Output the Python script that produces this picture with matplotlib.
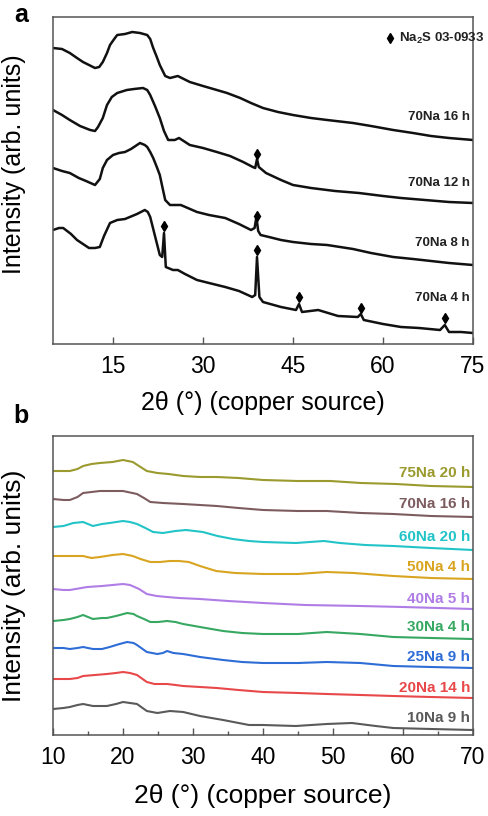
"""
XRD patterns of Na-loaded samples: (a) 70Na series vs milling time,
(b) composition series. Curves are stacked with offsets in arb. units.
"""

import matplotlib
matplotlib.use("Agg")
import matplotlib.pyplot as plt
from matplotlib.ticker import MultipleLocator

plt.rcParams["font.family"] = ["Liberation Sans", "DejaVu Sans"]
plt.rcParams["mathtext.fontset"] = "custom"
plt.rcParams["mathtext.rm"] = "Liberation Sans"
plt.rcParams["mathtext.bf"] = "Liberation Sans:bold"

# ----------------------------------------------------------------------
# Panel a: 70Na milled 4/8/12/16 h (stacked, arb. units)
# ----------------------------------------------------------------------
tt_16h = [5, 6.5, 7.8, 9, 10, 11, 12, 12.7, 13.3, 14, 14.5, 15.2, 15.7, 17, 18.2,
          19.5, 20.7, 21.2, 21.7, 22.3, 22.8, 23.7, 24.5, 25.8, 26.8, 27.8, 30,
          32.3, 34, 36.2, 38, 40, 42.5, 45, 48, 50.7, 55, 58, 61.7, 65, 68, 71, 75]
i_16h = [296, 295, 291, 286, 282, 279, 276, 277, 282, 291, 299, 305, 309, 310, 312,
         311, 309, 305, 296, 287, 279, 268, 266, 268, 265, 262, 258,
         254, 251, 246, 241, 236, 232, 229, 226, 224, 221, 218, 214, 211, 208, 206, 204]

tt_12h = [5, 6.5, 7.8, 9.5, 11.2, 12, 12.5, 13.3, 14, 14.8, 15.7, 17.3, 18.5, 20,
          20.7, 21.2, 22, 22.8, 23.5, 24.2, 25.3, 26, 27.8, 30, 32.3, 34.5, 36.7,
          38.3, 38.7, 39, 39.3, 39.7, 40.5, 43, 45, 48, 52, 56, 60, 63, 67, 71, 75]
i_12h = [234, 229, 224, 218, 214, 213, 217, 226, 239, 247, 251, 254, 255, 256,
         254, 249, 238, 226, 213, 204, 204, 206, 199, 196, 192, 188, 182,
         177, 176, 185, 177, 175, 171, 164, 159, 156, 153, 151, 148, 146, 144, 142, 141]

tt_8h = [5, 6.5, 7.8, 9.3, 10.5, 12, 12.8, 13.3, 14, 15, 16, 17, 18, 19.5, 20.3,
         20.7, 21.2, 21.7, 22.3, 22.8, 23.3, 23.7, 24.5, 26.3, 29, 31, 33.7, 36,
         38, 38.6, 38.9, 39.2, 39.6, 41, 43, 45, 48, 50.7, 55, 58, 61.7, 65, 68, 71, 75]
i_8h = [176, 173, 171, 166, 163, 159, 165, 176, 184, 189, 191, 192, 195, 201, 199,
        197, 192, 186, 177, 169, 155, 144, 139, 139, 132, 129, 126, 120,
        114, 116, 127, 113, 109, 107, 104, 102, 100, 99, 95, 91, 87, 85, 83, 81, 79]

tt_4h = [5, 6, 6.7, 8, 9, 10, 11, 12, 12.8, 13.5, 14.5, 15.7, 17, 17.8, 19, 20.3,
         20.8, 21.2, 22, 22.8, 23.2, 23.5, 23.8, 24.2, 25, 25.8, 27, 29, 31, 33.7,
         36, 38.2, 38.7, 39, 39.4, 40, 43, 45.5, 46, 46.5, 49.2, 52.5, 55.8, 56.3,
         56.8, 60, 63, 66, 69.5, 70.3, 71, 73, 75]
i_4h = [114, 116, 116, 110, 104, 100, 96, 96, 97, 108, 121, 124, 125, 127, 130, 134,
        132, 127, 108, 89, 87, 111, 77, 76, 74, 74, 70, 64, 61, 57,
        53, 47, 49, 87, 47, 42, 37, 34, 40, 32, 34, 28, 27, 30,
        24, 20, 17, 16, 14, 19, 12, 12, 11]

series_a = [(tt_16h, i_16h), (tt_12h, i_12h), (tt_8h, i_8h), (tt_4h, i_4h)]
labels_a = ["70Na 16 h", "70Na 12 h", "70Na 8 h", "70Na 4 h"]
label_y_a = [227, 161, 101, 46]

# Na2S reflections (PDF 03-0933) flagged above the patterns
na2s_tt = [39, 39, 23.5, 39, 46, 56.3, 70.3]
na2s_y = [190, 128, 118, 94, 47, 36, 26]

# ----------------------------------------------------------------------
# Panel b: composition series (stacked, arb. units)
# ----------------------------------------------------------------------
tt_75 = [10, 11.5, 12.4, 13.5, 14.3, 15.5, 16.7, 18.5, 20, 21.4, 22.5, 23.4, 24.9,
         26.5, 28.6, 31, 33.4, 36.5, 40, 45, 49.6, 54, 59, 64, 70]
i_75 = [264, 264, 264, 266, 269, 271, 272, 273, 275, 273, 268, 264, 262,
        261, 259, 258, 258, 257, 255, 254, 254, 252, 251, 249, 248]

tt_70 = [10, 11.5, 12.4, 13.5, 14.3, 15.5, 16.7, 18.5, 20, 22, 23, 23.9, 25.7,
         28.6, 33.4, 36.5, 40, 45, 49.1, 54, 58.6, 64, 70]
i_70 = [236, 235, 235, 238, 242, 243, 244, 244, 244, 241, 237, 233, 232,
        231, 229, 227, 225, 224, 224, 222, 221, 219, 218]

tt_60 = [10, 11.5, 12.9, 14.3, 15.7, 17, 18.1, 20, 21, 22, 23.2, 24.3, 25.7, 27.5,
         29, 31.4, 33.5, 35.7, 38, 40, 44.7, 48.7, 51, 54.6, 58.6, 64, 70]
i_60 = [208, 209, 212, 213, 209, 211, 212, 214, 213, 211, 207, 203, 202, 204,
        205, 203, 199, 196, 194, 193, 192, 194, 192, 190, 189, 187, 185]

tt_50 = [10, 12, 14.3, 15.5, 16.7, 18.5, 20, 21.4, 22.5, 23.9, 25.3, 26.7, 28,
         29.4, 31, 33.3, 36, 40, 45, 49.1, 53, 58.6, 64, 70]
i_50 = [179, 179, 179, 177, 178, 180, 181, 179, 176, 173, 173, 174, 174,
        173, 169, 164, 162, 161, 161, 163, 162, 159, 157, 156]

tt_40 = [10, 11.5, 12.4, 14.9, 17, 18.5, 20, 21, 22.3, 23.4, 24.8, 26.3, 28, 31,
         35, 40, 46, 53.9, 60, 70]
i_40 = [146, 145, 145, 148, 149, 150, 151, 150, 146, 141, 139, 138, 137, 136,
        134, 132, 130, 129, 128, 126]

tt_30 = [10, 11.5, 12.4, 13.5, 14.3, 15, 15.7, 17, 17.7, 19, 20.6, 21.5, 22, 23,
         23.9, 25, 26.3, 27.5, 28.6, 31, 34.3, 37, 40, 45, 49.1, 53.9, 58.6, 64, 70]
i_30 = [114, 115, 116, 118, 120, 118, 116, 117, 117, 119, 122, 121, 119, 116,
        113, 113, 114, 113, 111, 108, 104, 102, 101, 101, 103, 101, 98, 97, 96]

tt_25 = [10, 11.5, 12.4, 13.5, 14.3, 15, 15.7, 17, 18.1, 19.5, 20.6, 21.5, 22,
         23.4, 24.9, 25.7, 26.3, 27.2, 28.6, 31, 34.3, 37, 40, 45, 49.1, 53.9,
         58.6, 64, 70]
i_25 = [87, 87, 86, 87, 88, 87, 86, 86, 88, 91, 93, 92, 90,
        83, 81, 82, 84, 82, 81, 78, 75, 73, 72, 72, 73, 72,
        69, 68, 67]

tt_20 = [10, 11.5, 12.4, 13.5, 14.3, 16, 17.7, 19, 20, 21, 22, 23.4, 24.5, 25.3,
         26.3, 27.5, 28.6, 31, 33.4, 36.5, 40, 45, 49.1, 54, 58.6, 64, 70]
i_20 = [56, 56, 56, 57, 59, 60, 61, 62, 63, 62, 60, 53, 51, 51,
        51, 50, 49, 48, 47, 45, 43, 42, 41, 40, 39, 38, 37]

tt_10 = [10, 11.5, 12.4, 13.5, 14.3, 15, 15.7, 17, 17.7, 19, 20, 21, 22, 23.4,
         24.9, 26.7, 28.6, 31, 34.3, 38, 40, 44.7, 49.1, 52.7, 56.1, 58.6, 64, 70]
i_10 = [26, 27, 28, 30, 31, 30, 29, 29, 29, 31, 33, 32, 31, 24,
        22, 24, 23, 19, 15, 10, 10, 9, 11, 12, 9, 7, 6, 5]

series_b = [(tt_75, i_75), (tt_70, i_70), (tt_60, i_60), (tt_50, i_50), (tt_40, i_40),
            (tt_30, i_30), (tt_25, i_25), (tt_20, i_20), (tt_10, i_10)]
labels_b = ["75Na 20 h", "70Na 16 h", "60Na 20 h", "50Na 4 h", "40Na 5 h",
            "30Na 4 h", "25Na 9 h", "20Na 14 h", "10Na 9 h"]
label_y_b = [262, 231, 198, 168, 136, 108, 78, 47, 17]
colors_b = ["#9a9a2e", "#7d5c60", "#22c4c8", "#d9a521", "#b07de6",
            "#37a862", "#2f6dd6", "#e8484a", "#5a5a5a"]

SPINE = "#555555"


def style_axes(ax):
    for sp in ax.spines.values():
        sp.set_color(SPINE)
        sp.set_linewidth(1.1)
    ax.set_yticks([])
    ax.tick_params(axis="x", which="both", direction="in", color=SPINE,
                   labelsize=16.5, pad=8)
    ax.tick_params(axis="x", which="major", length=5, width=1)
    ax.tick_params(axis="x", which="minor", length=3, width=1)


fig = plt.figure(figsize=(4.88, 8.16), dpi=100)
ax_a = fig.add_axes([53 / 488, 1 - 344 / 816, 420 / 488, 327 / 816])
ax_b = fig.add_axes([53 / 488, 1 - 735 / 816, 420 / 488, 299 / 816])

# --- panel a ---
for (tt, inten), lab, ly in zip(series_a, labels_a, label_y_a):
    ax_a.plot(tt, inten, color="#111111", lw=1.8)
    ax_a.text(74.5, ly, lab, ha="right", va="center", fontsize=9.5,
              fontweight="bold", color="#222222")
ax_a.plot(na2s_tt, na2s_y, ls="none", marker="d", ms=5.5, color="black")
ax_a.plot([61.1], [306], ls="none", marker="d", ms=5, color="black")
ax_a.text(62.6, 306, r"Na$_\mathbf{2}$S 03-0933", ha="left", va="center",
          fontsize=9.5, fontweight="bold", color="#222222")
ax_a.set_xlim(5, 75)
ax_a.set_ylim(0, 327)
ax_a.set_xticks([15, 30, 45, 60, 75])
style_axes(ax_a)
ax_a.set_xlabel("2θ (°) (copper source)", fontsize=18, labelpad=9)
ax_a.set_ylabel("Intensity (arb. units)", fontsize=18, labelpad=10)
ax_a.yaxis.set_label_coords(-0.065, 0.55)

# --- panel b ---
for (tt, inten), lab, ly, c in zip(series_b, labels_b, label_y_b, colors_b):
    ax_b.plot(tt, inten, color=c, lw=1.5)
    ax_b.text(69.6, ly, lab, ha="right", va="center", fontsize=11,
              fontweight="bold", color=c)
ax_b.set_xlim(10, 70)
ax_b.set_ylim(0, 299)
ax_b.xaxis.set_major_locator(MultipleLocator(10))
ax_b.xaxis.set_minor_locator(MultipleLocator(5))
style_axes(ax_b)
ax_b.set_xlabel("2θ (°) (copper source)", fontsize=19, labelpad=11)
ax_b.set_ylabel("Intensity (arb. units)", fontsize=19)
ax_b.yaxis.set_label_coords(-0.065, 0.5)

fig.text(21 / 488, 1 - 15 / 816, "a", fontsize=18, fontweight="bold",
         ha="center", va="center")
fig.text(21 / 488, 1 - 416 / 816, "b", fontsize=18, fontweight="bold",
         ha="center", va="center")

fig.savefig("out.png", dpi=100)
